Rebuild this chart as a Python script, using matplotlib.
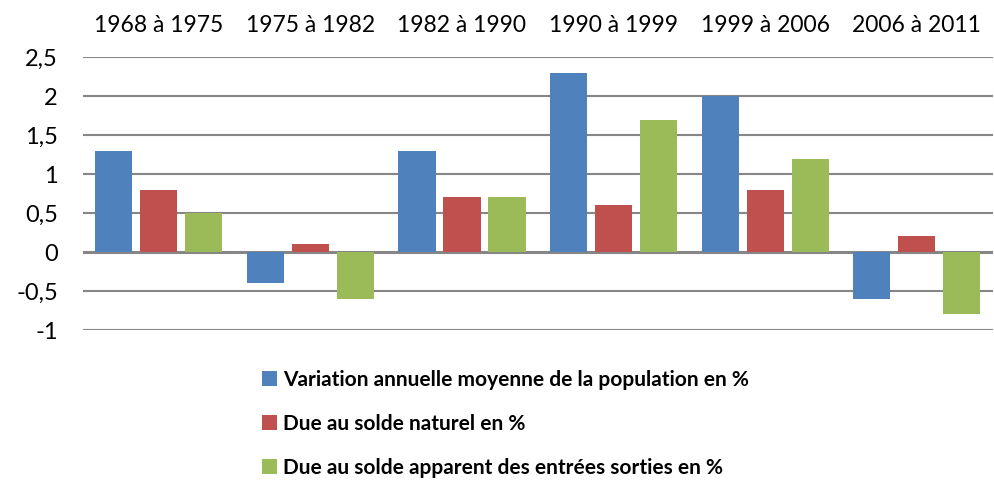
import matplotlib
matplotlib.use("Agg")
import matplotlib.pyplot as plt
import numpy as np
from matplotlib.ticker import FuncFormatter

periods = ["1968 à 1975", "1975 à 1982", "1982 à 1990", "1990 à 1999", "1999 à 2006", "2006 à 2011"]
variation = [1.3, -0.4, 1.3, 2.3, 2.0, -0.6]
solde_naturel = [0.8, 0.1, 0.7, 0.6, 0.8, 0.2]
solde_apparent = [0.5, -0.6, 0.7, 1.7, 1.2, -0.8]
labels = ["Variation annuelle moyenne de la population en %",
          "Due au solde naturel en %",
          "Due au solde apparent des entrées sorties en %"]
colors = ["#4F81BD", "#C0504D", "#9BBB59"]
GRID = "#868686"

plt.rcParams["font.family"] = ["Lato", "DejaVu Sans"]

fig = plt.figure(figsize=(9.94, 4.84), dpi=100)
ax = fig.add_axes([0.0835, 0.318, 0.915, 0.564])

x = np.arange(len(periods))
w = 0.245
step = 0.297
handles = []
for i, (vals, col) in enumerate(zip([variation, solde_naturel, solde_apparent], colors)):
    h = ax.bar(x + (i - 1) * step, vals, width=w, color=col, zorder=3, label=labels[i])
    handles.append(h)

ax.set_xlim(-0.5, len(periods) - 0.5)
ax.set_ylim(-1, 2.5)
ax.set_yticks(np.arange(-1, 2.51, 0.5))
ax.yaxis.set_major_formatter(FuncFormatter(lambda v, p: ("%g" % v).replace(".", ",")))
for v in np.arange(-1, 2.51, 0.5):
    ax.axhline(v, color=GRID, lw=2.2 if v == 0 else 1.5, zorder=1)

ax.xaxis.tick_top()
ax.set_xticks(x)
ax.set_xticklabels(periods, fontsize=16.5)
ax.tick_params(axis="x", length=0, pad=15)
ax.tick_params(axis="y", length=0, pad=18, labelsize=17)
for s in ax.spines.values():
    s.set_visible(False)

fig.legend(handles=handles, loc="upper left", bbox_to_anchor=(0.2636, 0.236),
           frameon=False, prop={"size": 15, "weight": "bold"},
           handlelength=0.7, handleheight=0.7, handletextpad=0.3,
           labelspacing=1.15, borderaxespad=0, borderpad=0)

fig.savefig("out.png", dpi=100, facecolor="white")
